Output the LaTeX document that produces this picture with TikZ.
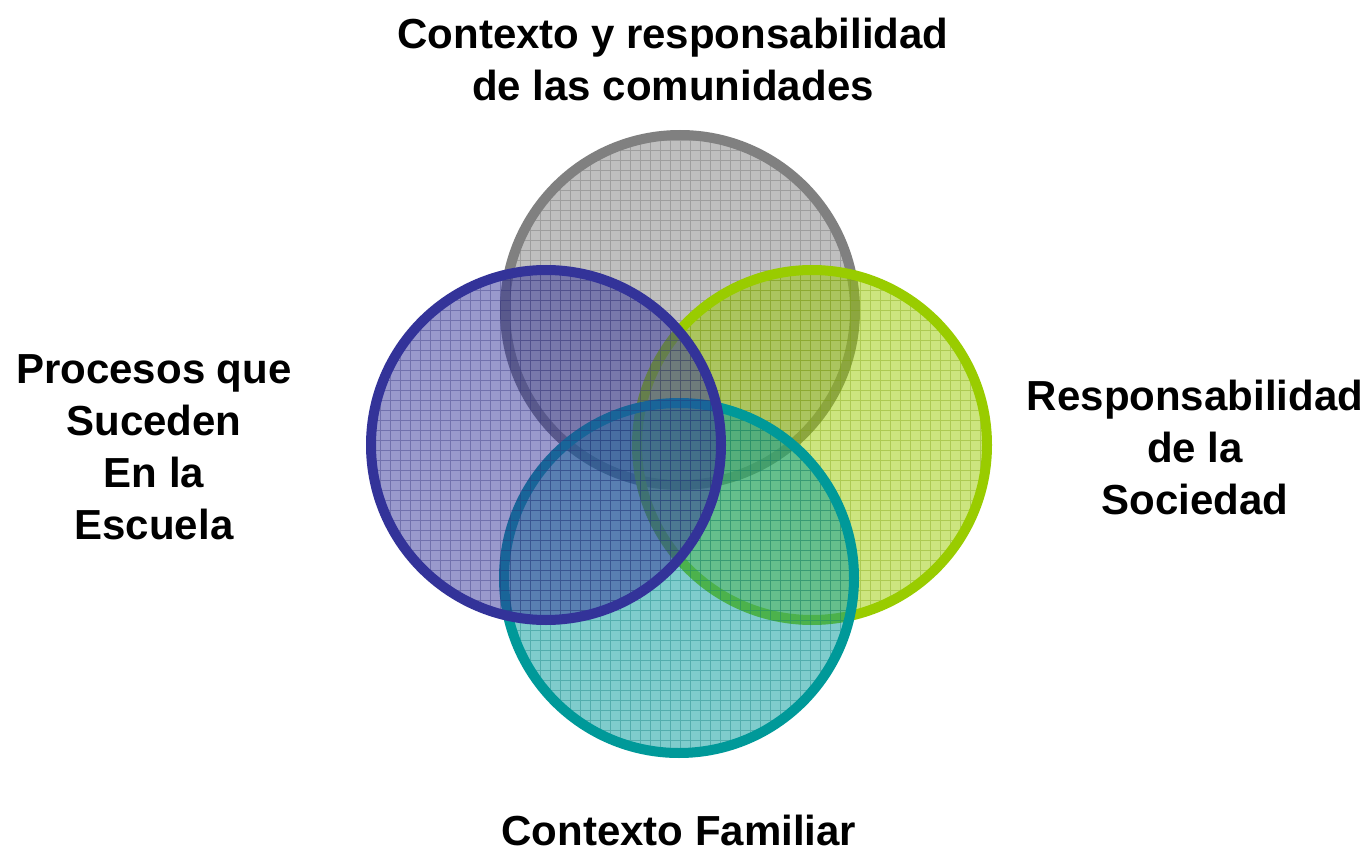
\documentclass[tikz,border=0pt]{standalone}
\usepackage{fontspec}
\setmainfont{Liberation Sans}
\usetikzlibrary{calc}

\definecolor{ringgray}{HTML}{808080}
\definecolor{ringgreen}{HTML}{99CC00}
\definecolor{ringteal}{HTML}{009999}
\definecolor{ringblue}{HTML}{333399}

\tikzset{
	label text/.style={font=\bfseries\fontsize{42}{52}\selectfont, align=center, inner sep=0pt},
}

\begin{document}
\begin{tikzpicture}[x=1pt,y=-1pt]
		\def\r{175pt}
		\useasboundingbox (0,0) rectangle (1369,853);

		\coordinate (top) at (680,310);
		\coordinate (left) at (546,445);
		\coordinate (right) at (812,445);
		\coordinate (bottom) at (679,578);

		% rings, back to front
		\foreach \c/\col in {top/ringgray,right/ringgreen,bottom/ringteal,left/ringblue}{
			\begin{scope}
				\clip (\c) circle [radius=\r];
				\fill[\col, opacity=0.5] (\c) circle [radius=\r];
				\draw[\col!75!black, opacity=0.35, line width=0.8pt, step=10pt] ($(\c)+(-180,-180)$) grid ($(\c)+(180,180)$);
			\end{scope}
			\draw[\col, line width=10pt] (\c) circle [radius=\r];
		}

		\node[label text] (comunidad) at (673,59) {Contexto y responsabilidad\\de las comunidades};
		\node[label text] (escuela) at (154,447) {Procesos que\\Suceden\\En la\\Escuela};
		\node[label text] (sociedad) at (1195,447) {Responsabilidad\\de la\\Sociedad};
		\node[label text, anchor=base] (familia) at (679,845) {Contexto Familiar};
	\end{tikzpicture}
\end{document}
